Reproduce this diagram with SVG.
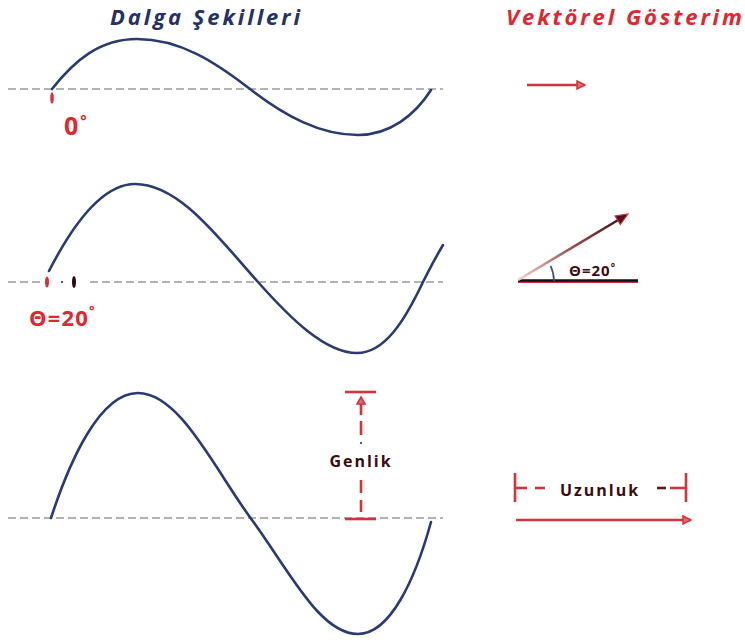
<svg xmlns="http://www.w3.org/2000/svg" width="745" height="640" viewBox="0 0 745 640">
<style>
.axis{stroke:#9a9a9a;stroke-width:1.6;stroke-dasharray:8 4;fill:none}
.wave{stroke:#2b3a73;stroke-width:2.6;fill:none;stroke-linecap:round}
.red{stroke:#d3333b;stroke-width:2.6;fill:none}
.hdr{font-family:"Open Sans","Noto Sans",sans-serif;font-weight:bold;font-style:italic;font-size:22px}
.lbl{font-family:"Open Sans","Noto Sans",sans-serif;font-weight:bold}
.dark{fill:#3a0c10}
</style>
<defs>
<marker id="ah" markerWidth="10" markerHeight="10" refX="9" refY="5" orient="auto" markerUnits="userSpaceOnUse">
<path d="M1,1 L9,5 L1,9 Z" fill="#e56a70" stroke="#d3333b" stroke-width="1.5"/>
</marker>
<linearGradient id="vg" gradientUnits="userSpaceOnUse" x1="518" y1="280" x2="628" y2="214">
<stop offset="0" stop-color="#f6cfd2"/>
<stop offset="0.5" stop-color="#9a4a50"/>
<stop offset="1" stop-color="#3a0a10"/>
</linearGradient>
</defs>

<g id="headers">
<text class="hdr" x="110" y="25" fill="#25306a" textLength="190" lengthAdjust="spacing">Dalga Şekilleri</text>
<text class="hdr" x="506" y="25" fill="#e0262e" textLength="236" lengthAdjust="spacing">Vektörel Gösterim</text>
</g>

<g id="wave1">
<line class="axis" x1="8" y1="89" x2="443" y2="89"/>
<path class="wave" d="M52,89 C75,60 100,39 137,39 C180,39 215,62 250,89 C285,116 320,135 358,135 C390,135 415,115 431,90"/>
<ellipse cx="52" cy="98" rx="1.8" ry="5.5" fill="#d3333b"/>
<text class="lbl" x="64" y="135" font-size="25" fill="#e0262e">0<tspan font-size="15" dx="2" dy="-9">°</tspan></text>
</g>

<g id="wave2">
<line class="axis" x1="8" y1="282" x2="44" y2="282"/>
<line class="axis" x1="90" y1="282" x2="443" y2="282"/>
<path class="wave" d="M49,271 C70,230 100,184 135,184 C180,184 220,240 258,282 C290,318 325,353 357,353 C385,353 405,320 423,282 C430,268 437,255 443,245"/>
<ellipse cx="47" cy="282" rx="2" ry="5.5" fill="#d3333b"/>
<circle cx="62" cy="282" r="1" fill="#222"/>
<ellipse cx="74" cy="282" rx="2" ry="6" fill="#2a0a0a"/>
<text class="lbl" x="29" y="326" font-size="22" fill="#e0262e" letter-spacing="1.2">Θ=20<tspan font-size="13" dy="-11">°</tspan></text>
</g>

<g id="wave3">
<line class="axis" x1="8" y1="518" x2="443" y2="518"/>
<path class="wave" d="M51,518 C70,460 100,393 138,393 C180,393 215,470 252,520 C290,572 320,634 358,634 C390,634 415,580 431,522"/>
</g>

<g id="genlik">
<line class="red" x1="345" y1="392" x2="376" y2="392" stroke-width="3"/>
<line class="red" x1="345" y1="519" x2="376" y2="519" stroke-width="3"/>
<path d="M361,397 L365,404 L357,404 Z" fill="#e56a70" stroke="#d3333b" stroke-width="1.6"/>
<line class="red" x1="361" y1="404" x2="361" y2="415"/>
<line class="red" x1="361" y1="421" x2="361" y2="435"/>
<circle cx="361" cy="443" r="1" fill="#222"/>
<text class="lbl dark" x="361" y="467" font-size="16" text-anchor="middle" letter-spacing="2">Genlik</text>
<line class="red" x1="361" y1="480" x2="361" y2="493"/>
<line class="red" x1="361" y1="500" x2="361" y2="512"/>
</g>

<g id="vector1">
<line class="red" x1="527" y1="85" x2="585" y2="85" marker-end="url(#ah)"/>
</g>

<g id="vector2">
<line x1="518" y1="282" x2="638" y2="282" stroke="#c8303a" stroke-width="2"/>
<line x1="518" y1="280.5" x2="638" y2="280.5" stroke="#111" stroke-width="2.4"/>
<path d="M554,281 A36,36 0 0 0 550.6,265.8" fill="none" stroke="#3a4a7a" stroke-width="1.6"/>
<line x1="518" y1="280" x2="619" y2="219.5" stroke="url(#vg)" stroke-width="2.6"/>
<path d="M628,214 L620.3,224.5 L615.1,215.9 Z" fill="#5a0c18" stroke="#c8303a" stroke-width="1.2"/>
<text class="lbl dark" x="569" y="276" font-size="15" letter-spacing="1">Θ=20<tspan font-size="10" dy="-5">°</tspan></text>
</g>

<g id="uzunluk">
<line class="red" x1="515" y1="473" x2="515" y2="502"/>
<line class="red" x1="686" y1="473" x2="686" y2="502"/>
<line class="red" x1="515" y1="488" x2="527" y2="488"/>
<line class="red" x1="535" y1="488" x2="545" y2="488"/>
<line x1="657" y1="488" x2="666" y2="488" stroke="#5a1a1a" stroke-width="2.6"/>
<line class="red" x1="670" y1="488" x2="686" y2="488"/>
<text class="lbl dark" x="600" y="496" font-size="16" text-anchor="middle" letter-spacing="2">Uzunluk</text>
<line class="red" x1="516" y1="520" x2="691" y2="520" marker-end="url(#ah)"/>
</g>
</svg>
